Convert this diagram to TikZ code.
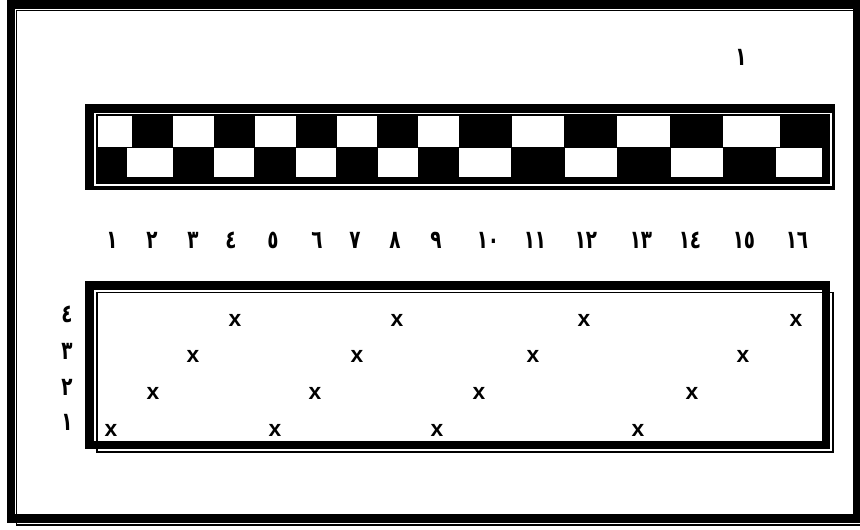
\documentclass[tikz,border=0pt]{standalone}
\usepackage{fontspec}
\setmainfont{Liberation Sans}
\newfontfamily\arabicfont[FakeStretch=0.72]{DejaVu Sans Bold}
\usetikzlibrary{positioning}

\begin{document}
\begin{tikzpicture}[x=0.02cm, y=-0.02cm,
    thickframe/.style={line width=5.1pt},
    thinframe/.style={line width=0.85pt},
    digit/.style={font=\arabicfont\fontsize{14.5}{16}\selectfont, inner sep=0pt},
    cross/.style={font=\bfseries\fontsize{13}{15}\selectfont, inner sep=0pt}
]
\useasboundingbox (0,0) rectangle (860,529);

\draw[thickframe] (11,4.5) rectangle (857,518.5);
\draw[thinframe] (860,10.5) -- (16.5,10.5) -- (16.5,525) -- (860,525);

\fill (85,104) rectangle (835,190);
\draw[white, line width=0.7pt] (95,113.3) rectangle (831,185);
\foreach \l/\r in {98/132, 173/214, 255/296, 337/377, 418/459, 512/564, 617/670, 723/780}
    \fill[white] (\l,115.7) rectangle (\r,147);
\foreach \l/\r in {127/173, 214/254, 296/336, 378/418, 459/511, 565/617, 671/723, 776/822}
    \fill[white] (\l,147.7) rectangle (\r,176.7);

\node[digit] (top) at (741,57) {١};

\foreach \n/\x [count=\i] in {١/112, ٢/152, ٣/193, ٤/231, ٥/273, ٦/317, ٧/355, ٨/395, ٩/436,
    ١٠/488, ١١/535, ١٢/586, ١٣/641, ١٤/690, ١٥/744, ١٦/797}
    \node[digit] (col\i) at (\x,240) {\n};

\draw[thickframe] (89.5,285.5) rectangle (826,445);
\draw[thinframe] (97,292.3) rectangle (833,452);

\node[digit, anchor=east] (row4) at (73,314) {٤};
\node[digit, anchor=east] (row3) at (73,351) {٣};
\node[digit, anchor=east] (row2) at (73,387) {٢};
\node[digit, anchor=east] (row1) at (73,422) {١};

\foreach \x [count=\i] in {111, 275, 437, 638}
    \node[cross] (a\i) at (\x,430.7) {x};
\foreach \x [count=\i] in {153, 315, 479, 692}
    \node[cross] (b\i) at (\x,393.3) {x};
\foreach \x [count=\i] in {193, 357, 533, 743}
    \node[cross] (c\i) at (\x,356.7) {x};
\foreach \x [count=\i] in {235, 397, 584, 796}
    \node[cross] (d\i) at (\x,320) {x};

\end{tikzpicture}
\end{document}
